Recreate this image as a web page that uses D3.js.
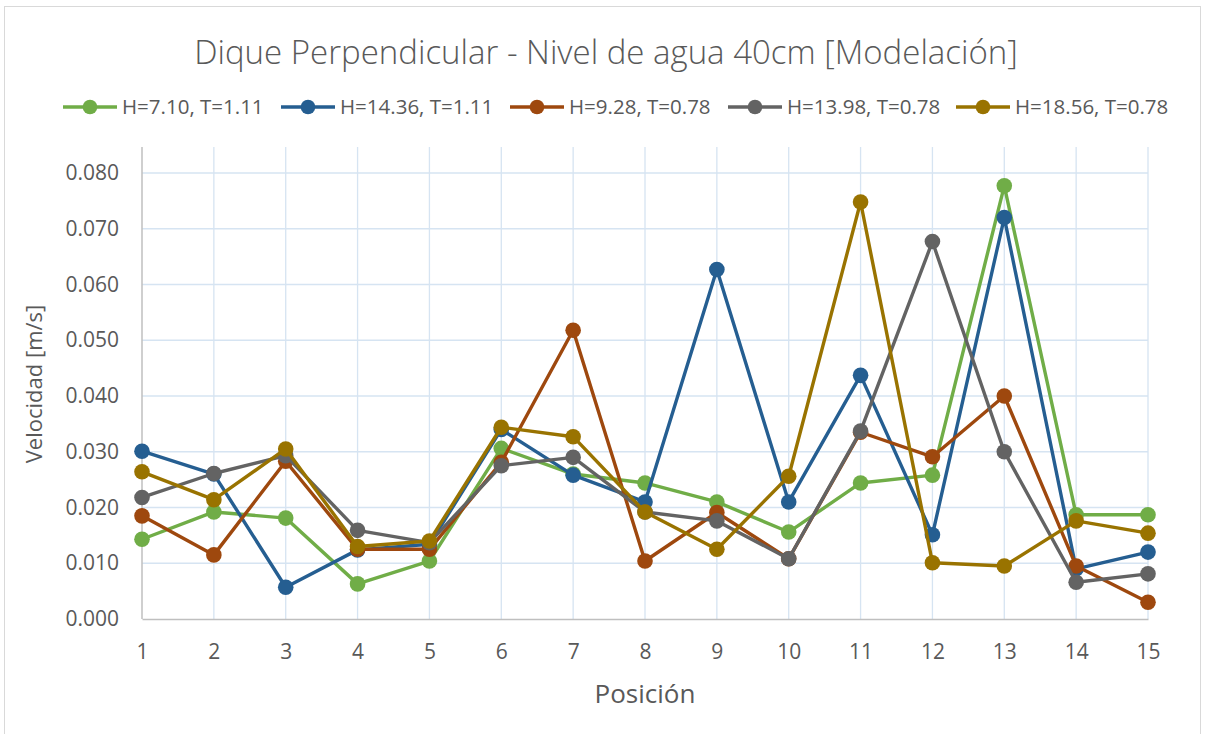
<!DOCTYPE html>
<html>
<head>
<meta charset="utf-8">
<script src="https://cdn.jsdelivr.net/npm/d3@7"></script>
<style>
    body { margin: 0; background: #fff; }
    svg text { font-family: "Open Sans", "Noto Sans", sans-serif; fill: #595959; }
</style>
</head>
<body>
<div id="chart"></div>
<script>
const positions = [1, 2, 3, 4, 5, 6, 7, 8, 9, 10, 11, 12, 13, 14, 15];
const yTicks = [0, 0.01, 0.02, 0.03, 0.04, 0.05, 0.06, 0.07, 0.08];

const seriesNames = ['H=7.10, T=1.11', 'H=14.36, T=1.11', 'H=9.28, T=0.78', 'H=13.98, T=0.78', 'H=18.56, T=0.78'];
const seriesColors = ['#70AD47', '#255E91', '#9E480E', '#636363', '#997300'];

const h710 = [0.0143, 0.0192, 0.0181, 0.0063, 0.0104, 0.0306, 0.0260, 0.0244, 0.0210, 0.0156, 0.0244, 0.0258, 0.0777, 0.0187, 0.0187];
const h1436 = [0.0301, 0.0260, 0.0057, 0.0124, 0.0134, 0.0340, 0.0258, 0.0210, 0.0627, 0.0210, 0.0437, 0.0151, 0.0720, 0.0090, 0.0120];
const h928 = [0.0185, 0.0115, 0.0283, 0.0125, 0.0125, 0.0281, 0.0518, 0.0104, 0.0191, 0.0108, 0.0335, 0.0291, 0.0400, 0.0095, 0.0030];
const h1398 = [0.0218, 0.0261, 0.0293, 0.0159, 0.0137, 0.0275, 0.0290, 0.0192, 0.0176, 0.0108, 0.0337, 0.0677, 0.0300, 0.0066, 0.0081];
const h1856 = [0.0264, 0.0214, 0.0305, 0.0130, 0.0140, 0.0344, 0.0327, 0.0192, 0.0125, 0.0256, 0.0748, 0.0101, 0.0095, 0.0176, 0.0154];

const seriesValues = [h710, h1436, h928, h1398, h1856];

const width = 1208;
const height = 734;
const plotLeft = 142, plotRight = 1148, plotTopTick = 173, plotBottom = 619;

const svg = d3.select('#chart')
    .append('svg')
    .attr('width', width)
    .attr('height', height);

// chart frame
svg.append('rect')
    .attr('x', 4.5).attr('y', 6.5)
    .attr('width', 1196).attr('height', 740)
    .attr('fill', 'none')
    .attr('stroke', '#D9D9D9');

let xScale = d3.scaleLinear()
    .domain([1, 15])
    .range([plotLeft, plotRight]);

let yScale = d3.scaleLinear()
    .domain([0, 0.08])
    .range([plotBottom, plotTopTick]);

// plot area extends a bit above the top tick
const plotTop = 147;

// horizontal gridlines
svg.append('g')
    .selectAll('line')
    .data(yTicks.slice(1))
    .enter()
    .append('line')
    .attr('x1', plotLeft).attr('x2', plotRight)
    .attr('y1', d => yScale(d)).attr('y2', d => yScale(d))
    .attr('stroke', '#D6E4F2')
    .attr('stroke-width', 1.3);

// vertical gridlines
svg.append('g')
    .selectAll('line')
    .data(positions.slice(1))
    .enter()
    .append('line')
    .attr('x1', d => xScale(d)).attr('x2', d => xScale(d))
    .attr('y1', plotTop).attr('y2', plotBottom)
    .attr('stroke', '#D6E4F2')
    .attr('stroke-width', 1.3);

// axes
svg.append('g')
    .attr('transform', 'translate(0,' + plotBottom + ')')
    .call(d3.axisBottom(xScale).tickValues(positions).tickFormat(d3.format('d')).tickSize(0).tickPadding(25))
    .call(g => g.select('.domain').attr('stroke', '#BFBFBF').attr('stroke-width', 1.5))
    .call(g => g.selectAll('text').attr('font-size', 21).attr('fill', '#595959')
        .attr('font-family', '"Open Sans", sans-serif'));

svg.append('g')
    .attr('transform', 'translate(' + plotLeft + ',0)')
    .call(d3.axisLeft(yScale).tickValues(yTicks).tickFormat(d3.format('.3f')).tickSize(0).tickPadding(23))
    .call(g => g.select('.domain').attr('d', 'M0,' + plotTop + 'V' + plotBottom).attr('stroke', '#BFBFBF').attr('stroke-width', 1.5))
    .call(g => g.selectAll('text').attr('font-size', 21).attr('fill', '#595959')
        .attr('font-family', '"Open Sans", sans-serif'));

// series
const line = d3.line()
    .x((d, i) => xScale(positions[i]))
    .y(d => yScale(d));

seriesValues.forEach((vals, s) => {
    const g = svg.append('g');
    g.append('path')
        .datum(vals)
        .attr('d', line)
        .attr('fill', 'none')
        .attr('stroke', seriesColors[s])
        .attr('stroke-width', 3.4)
        .attr('stroke-linejoin', 'round');
    g.selectAll('circle')
        .data(vals)
        .enter()
        .append('circle')
        .attr('cx', (d, i) => xScale(positions[i]))
        .attr('cy', d => yScale(d))
        .attr('r', 7.8)
        .attr('fill', seriesColors[s]);
});

// title
svg.append('text')
    .attr('x', 606).attr('y', 64)
    .attr('text-anchor', 'middle')
    .attr('font-size', 33)
    .style('font-weight', 300)
    .text('Dique Perpendicular - Nivel de agua 40cm [Modelación]');

// legend
const legendX = [63, 281, 510, 728, 956];
const legend = svg.append('g').attr('transform', 'translate(0,107)');
seriesNames.forEach((name, s) => {
    const item = legend.append('g').attr('transform', 'translate(' + legendX[s] + ',0)');
    item.append('line')
        .attr('x1', 0).attr('x2', 54)
        .attr('stroke', seriesColors[s])
        .attr('stroke-width', 3.4);
    item.append('circle')
        .attr('cx', 27).attr('r', 7.3)
        .attr('fill', seriesColors[s]);
    item.append('text')
        .attr('x', 59).attr('dy', '0.36em')
        .attr('font-size', 20.5)
        .text(name);
});

// axis titles
svg.append('text')
    .attr('x', 645).attr('y', 703)
    .attr('text-anchor', 'middle')
    .attr('font-size', 26)
    .text('Posición');

svg.append('text')
    .attr('transform', 'translate(42,384) rotate(-90)')
    .attr('text-anchor', 'middle')
    .attr('font-size', 22)
    .text('Velocidad [m/s]');
</script>
</body>
</html>
